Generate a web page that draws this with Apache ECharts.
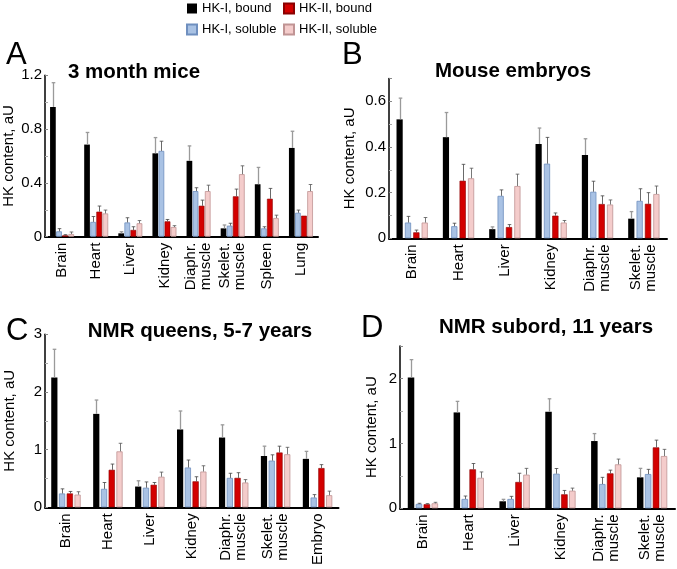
<!DOCTYPE html>
<html>
<head>
<meta charset="utf-8">
<script src="https://cdn.jsdelivr.net/npm/echarts@6/dist/echarts.min.js"></script>
<style>html,body{margin:0;padding:0;background:#fff}#c{width:677px;height:569px}</style>
</head>
<body>
<div id="c"></div>
<script>
// ---------- Data ----------
const seriesNames = ['HK-I, bound', 'HK-I, soluble', 'HK-II, bound', 'HK-II, soluble'];

// Panel A: 3 month mice
const catsA = ['Brain', 'Heart', 'Liver', 'Kidney', 'Diaphr.\nmuscle', 'Skelet.\nmuscle', 'Spleen', 'Lung'];
const boundIA   = [0.965, 0.685, 0.025, 0.62, 0.564, 0.062, 0.39, 0.66];
const boundIAErr = [0.18, 0.09, 0.012, 0.117, 0.111, 0.025, 0.125, 0.124];
const solIA     = [0.04, 0.11, 0.106, 0.638, 0.339, 0.082, 0.062, 0.178];
const solIAErr  = [0.02, 0.04, 0.035, 0.072, 0.025, 0.018, 0.012, 0.02];
const boundIIA  = [0.01, 0.186, 0.05, 0.114, 0.23, 0.30, 0.282, 0.156];
const boundIIAErr = [0.005, 0.042, 0.024, 0.014, 0.042, 0.054, 0.077, 0];
const solIIA    = [0.02, 0.173, 0.10, 0.072, 0.339, 0.465, 0.139, 0.339];
const solIIAErr = [0.015, 0.025, 0.02, 0.01, 0.044, 0.062, 0.021, 0.049];

// Panel B: Mouse embryos
const catsB = ['Brain', 'Heart', 'Liver', 'Kidney', 'Diaphr.\nmuscle', 'Skelet.\nmuscle'];
const boundIB   = [0.521, 0.443, 0.040, 0.413, 0.365, 0.086];
const boundIBErr = [0.093, 0.108, 0.01, 0.07, 0.071, 0.031];
const solIB     = [0.069, 0.053, 0.186, 0.327, 0.204, 0.164];
const solIBErr  = [0.027, 0.013, 0.026, 0.115, 0.046, 0.053];
const boundIIB  = [0.026, 0.252, 0.049, 0.099, 0.15, 0.151];
const boundIIBErr = [0.01, 0.072, 0.011, 0.012, 0.036, 0.049];
const solIIB    = [0.069, 0.263, 0.229, 0.069, 0.148, 0.194];
const solIIBErr = [0.022, 0.044, 0.052, 0.009, 0.02, 0.035];

// Panel C: NMR queens, 5-7 years
const catsC = ['Brain', 'Heart', 'Liver', 'Kidney', 'Diaphr.\nmuscle', 'Skelet.\nmuscle', 'Embryo'];
const boundIC   = [2.25, 1.62, 0.36, 1.35, 1.21, 0.89, 0.84];
const boundICErr = [0.49, 0.24, 0.10, 0.32, 0.22, 0.17, 0.13];
const solIC     = [0.24, 0.32, 0.34, 0.69, 0.51, 0.81, 0.17];
const solICErr  = [0.08, 0.11, 0.10, 0.13, 0.08, 0.10, 0.05];
const boundIIC  = [0.24, 0.65, 0.39, 0.45, 0.51, 0.95, 0.68];
const boundIICErr = [0.035, 0.10, 0.04, 0.08, 0.09, 0.11, 0.06];
const solIIC    = [0.22, 0.97, 0.53, 0.62, 0.43, 0.92, 0.21];
const solIICErr = [0.05, 0.14, 0.08, 0.10, 0.05, 0.12, 0.07];

// Panel D: NMR subord, 11 years
const catsD = ['Brain', 'Heart', 'Liver', 'Kidney', 'Diaphr.\nmuscle', 'Skelet.\nmuscle'];
const boundID   = [2.015, 1.477, 0.108, 1.487, 1.036, 0.477];
const boundIDErr = [0.275, 0.17, 0.03, 0.2, 0.115, 0.138];
const solID     = [0.067, 0.144, 0.144, 0.533, 0.374, 0.528];
const solIDErr  = [0.01, 0.045, 0.04, 0.08, 0.103, 0.072];
const boundIID  = [0.062, 0.60, 0.405, 0.215, 0.538, 0.938];
const boundIIDErr = [0.01, 0.09, 0.135, 0.06, 0.05, 0.112];
const solIID    = [0.077, 0.47, 0.518, 0.271, 0.677, 0.805];
const solIIDErr = [0.015, 0.09, 0.097, 0.04, 0.081, 0.103];

// ---------- Styles ----------
const FONT = "'Liberation Sans', Arial, sans-serif";
const styles = [
  { color: '#000000', borderColor: '#000000', borderWidth: 0 },
  { color: '#a9c2e4', borderColor: '#6f8fbf', borderWidth: 0.8 },
  { color: '#d30000', borderColor: '#8a0000', borderWidth: 0.6 },
  { color: '#f4cccb', borderColor: '#c09494', borderWidth: 0.8 }
];
const errColors = ['#9a9a9a', '#444', '#444', '#555'];

const panels = [
  { cats: catsA, vals: [boundIA, solIA, boundIIA, solIIA], errs: [boundIAErr, solIAErr, boundIIAErr, solIIAErr],
    grid: { left: 44, right: 359, top: 75.3, bottom: 332.3 }, max: 1.2, interval: 0.4, minor: 2, showMax: true,
    barW: 5.7, gap: 0.07, nameGap: 29 },
  { cats: catsB, vals: [boundIB, solIB, boundIIB, solIIB], errs: [boundIBErr, solIBErr, boundIIBErr, solIIBErr],
    grid: { left: 389, right: 10, top: 78.5, bottom: 330.7 }, max: 0.7, interval: 0.2, minor: 2, showMax: false,
    barW: 6.2, gap: 0.35, nameGap: 32 },
  { cats: catsC, vals: [boundIC, solIC, boundIIC, solIIC], errs: [boundICErr, solICErr, boundIICErr, solIICErr],
    grid: { left: 45, right: 338.5, top: 334.3, bottom: 61.7 }, max: 3, interval: 1, minor: 2, showMax: true,
    barW: 6.2, gap: 0.25, nameGap: 28 },
  { cats: catsD, vals: [boundID, solID, boundIID, solIID], errs: [boundIDErr, solIDErr, boundIIDErr, solIIDErr],
    grid: { left: 400, right: 2, top: 346, bottom: 60.7 }, max: 2.5, interval: 1, minor: 2, showMax: false,
    barW: 6.5, gap: 0.22, nameGap: 21 }
];

const grids = [], xAxes = [], yAxes = [], series = [];
panels.forEach((p, gi) => {
  grids.push(Object.assign({ containLabel: false }, p.grid));
  xAxes.push({
    type: 'category', gridIndex: gi, data: p.cats,
    axisLine: { lineStyle: { color: '#000', width: 2 } },
    axisTick: { show: false },
    axisLabel: { rotate: 90, interval: 0, margin: 6, fontSize: 15, lineHeight: 15, color: '#000', fontFamily: FONT }
  });
  yAxes.push({
    type: 'value', gridIndex: gi, min: 0, max: p.max, interval: p.interval,
    name: 'HK content, aU', nameLocation: 'middle', nameGap: p.nameGap,
    nameTextStyle: { fontSize: 15, color: '#000', fontFamily: FONT },
    axisLine: { show: true, lineStyle: { color: '#000', width: 1.5 } },
    axisTick: { show: true, inside: true, length: 3, lineStyle: { color: '#888' } },
    minorTick: { show: true, splitNumber: p.minor, length: 3, lineStyle: { color: '#aaa' } },
    splitLine: { show: false },
    axisLabel: { fontSize: 15, color: '#000', margin: 3, fontFamily: FONT, showMaxLabel: p.showMax }
  });
  p.vals.forEach((vals, si) => {
    series.push({
      type: 'bar', name: seriesNames[si], xAxisIndex: gi, yAxisIndex: gi,
      data: vals, barWidth: p.barW, barGap: (p.gap * 100) + '%',
      itemStyle: styles[si], emphasis: { disabled: true }, z: 2
    });
  });
  p.vals.forEach((vals, si) => {
    const errs = p.errs[si];
    const n = p.vals.length, bw = p.barW, g = p.gap;
    series.push({
      type: 'custom', name: seriesNames[si], xAxisIndex: gi, yAxisIndex: gi, z: 3,
      data: vals.map((v, i) => [i, v, errs[i]]),
      renderItem: function (params, api) {
        const e = api.value(2);
        if (!e) return null;
        const x = api.value(0), v = api.value(1);
        const base = api.coord([x, v]);
        const top = api.coord([x, v + e]);
        const total = n * bw + (n - 1) * g * bw;
        const cx = Math.round(base[0] - total / 2 + si * bw * (1 + g) + bw / 2) + 0.5;
        const col = errColors[si];
        const w = si === 0 ? 1.3 : 0.8;
        return {
          type: 'group',
          children: [
            { type: 'line', shape: { x1: cx, y1: base[1], x2: cx, y2: top[1] }, style: { stroke: col, lineWidth: w } },
            { type: 'line', shape: { x1: cx - 1.8, y1: top[1], x2: cx + 1.8, y2: top[1] }, style: { stroke: col, lineWidth: w } }
          ]
        };
      }
    });
  });
});

const titleBold = { fontSize: 20.5, fontWeight: 'bold', color: '#000', fontFamily: FONT };
const letterStyle = { fontSize: 31, fontWeight: 'normal', color: '#000', fontFamily: FONT };
const legendText = { fontSize: 13, color: '#000', fontFamily: FONT, lineHeight: 15 };

const option = {
  animation: false,
  backgroundColor: '#fff',
  title: [
    { text: 'A', left: 1, top: 35, textStyle: letterStyle },
    { text: 'B', left: 337, top: 35, textStyle: letterStyle },
    { text: 'C', left: 1, top: 311, textStyle: letterStyle },
    { text: 'D', left: 356, top: 308, textStyle: letterStyle },
    { text: '3 month mice', left: 129, textAlign: 'center', top: 57, textStyle: titleBold },
    { text: 'Mouse embryos', left: 508, textAlign: 'center', top: 56, textStyle: titleBold },
    { text: 'NMR queens, 5-7 years', left: 195, textAlign: 'center', top: 316, textStyle: titleBold },
    { text: 'NMR subord, 11 years', left: 541, textAlign: 'center', top: 312, textStyle: titleBold }
  ],
  legend: [
    { orient: 'vertical', left: 186, top: 1, padding: 0, itemWidth: 10, itemHeight: 10, itemGap: 6,
      icon: 'rect', textStyle: legendText, data: ['HK-I, bound', 'HK-I, soluble'], selectedMode: false },
    { orient: 'vertical', left: 283, top: 1, padding: 0, itemWidth: 10, itemHeight: 10, itemGap: 6,
      icon: 'rect', textStyle: legendText, data: ['HK-II, bound', 'HK-II, soluble'], selectedMode: false }
  ],
  grid: grids,
  xAxis: xAxes,
  yAxis: yAxes,
  series: series
};

const chart = echarts.init(document.getElementById('c'), null, { renderer: 'canvas' });
chart.setOption(option);
</script>
</body>
</html>
